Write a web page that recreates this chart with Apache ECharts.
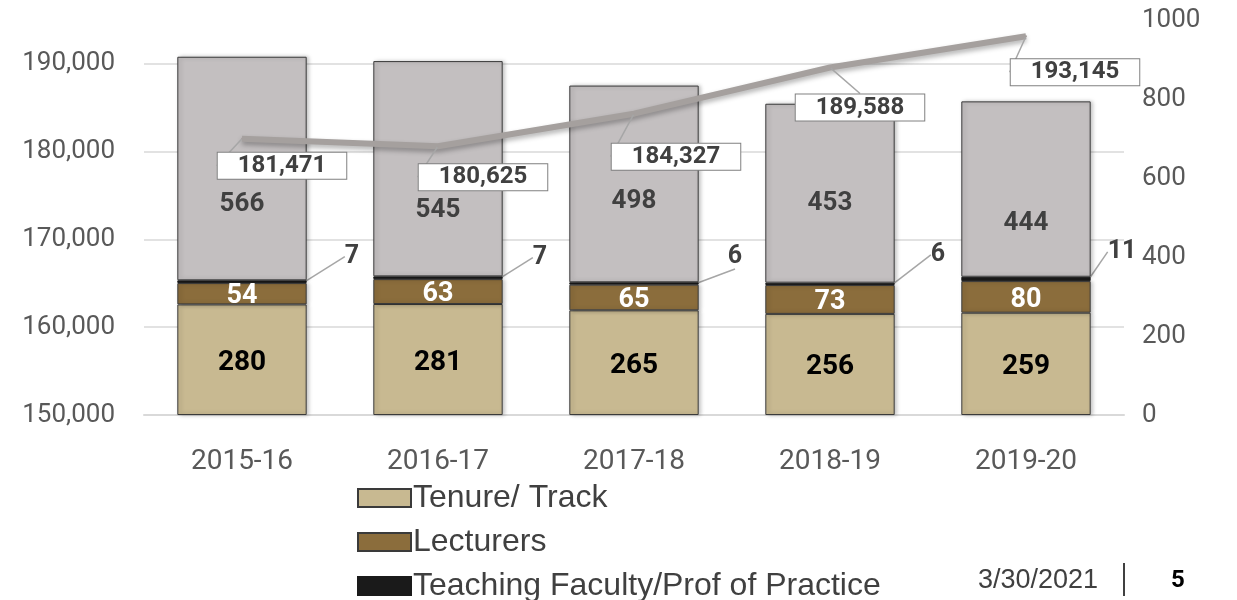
<!DOCTYPE html>
<html>
<head>
<meta charset="utf-8">
<script src="https://cdn.jsdelivr.net/npm/echarts@6/dist/echarts.min.js"></script>
<style>
html, body {
  margin: 0;
  padding: 0;
  background: #ffffff;
}
</style>
</head>
<body>
<div id="chart" style="width: 1237px;height:600px;"></div>
<script>
// data
var years      = ['2015-16', '2016-17', '2017-18', '2018-19', '2019-20'];
var tenure     = [280, 281, 265, 256, 259];
var lecturers  = [54, 63, 65, 73, 80];
var teaching   = [7, 7, 6, 6, 11];
var other      = [566, 545, 498, 453, 444];
var enrollment = [181471, 180625, 184327, 189588, 193145];

// label shifts (layout only)
var otherShift    = [36, 42, 18, 10, 34];
var teachingShift = [[110, -25], [102, -20], [101, -27], [108, -29], [96, -27]];
var lineShift     = [[40, 27], [45, 31], [42, 43], [30, 40], [49, 36]];

var font = 'Roboto, "Liberation Sans", sans-serif';
var arial = '"Liberation Sans", Arial, sans-serif';

var myChart = echarts.init(document.getElementById('chart'));

myChart.setOption({
  animation: false,
  textStyle: {
    fontFamily: font
  },
  grid: {
    left: 144,
    right: 113,
    top: 20,
    bottom: 185
  },
  legend: {
    orient: 'vertical',
    left: 357,
    top: 482,
    height: 200,
    padding: 0,
    itemWidth: 53,
    itemHeight: 18,
    itemGap: 12,
    icon: 'rect',
    data: ['Tenure/ Track', 'Lecturers', 'Teaching Faculty/Prof of Practice'],
    textStyle: {
      fontFamily: arial,
      fontSize: 32,
      lineHeight: 32,
      color: '#404040',
      padding: [0, 0, 0, -3]
    }
  },
  xAxis: {
    type: 'category',
    data: years,
    axisTick: { show: false },
    axisLine: {
      lineStyle: { color: '#d9d9d9', width: 2 }
    },
    axisLabel: {
      margin: 33,
      fontSize: 28,
      color: '#595959'
    }
  },
  yAxis: [
    {
      type: 'value',
      min: 150000,
      max: 195000,
      interval: 10000,
      axisLine: { show: false },
      axisTick: { show: false },
      axisLabel: {
        margin: 29,
        fontSize: 26,
        color: '#595959',
        showMaxLabel: false,
        formatter: function (v) {
          return v.toLocaleString('en-US');
        }
      },
      splitLine: {
        showMaxLine: false,
        lineStyle: { color: '#d9d9d9', width: 1.5 }
      }
    },
    {
      type: 'value',
      min: 0,
      max: 1000,
      interval: 200,
      axisLine: { show: false },
      axisTick: { show: false },
      splitLine: { show: false },
      axisLabel: {
        margin: 18,
        fontSize: 26,
        color: '#595959',
        formatter: function (v) {
          return String(v);
        }
      }
    }
  ],
  series: [
    {
      name: 'Tenure/ Track',
      type: 'bar',
      stack: 'fac',
      yAxisIndex: 1,
      barWidth: '66%',
      data: tenure,
      itemStyle: {
        color: '#c8b991',
        borderColor: '#3a3a3a',
        borderWidth: 1,
        shadowColor: 'rgba(0,0,0,0.25)',
        shadowBlur: 4,
        shadowOffsetX: 2
      },
      label: {
        show: true,
        position: 'inside',
        offset: [0, 3],
        fontSize: 28,
        fontWeight: 'bold',
        color: '#000000'
      }
    },
    {
      name: 'Lecturers',
      type: 'bar',
      stack: 'fac',
      yAxisIndex: 1,
      data: lecturers,
      itemStyle: {
        color: '#8b6d3c',
        borderColor: '#3a3a3a',
        borderWidth: 1,
        shadowColor: 'rgba(0,0,0,0.25)',
        shadowBlur: 4,
        shadowOffsetX: 2
      },
      label: {
        show: true,
        position: 'inside',
        offset: [0, 3],
        fontSize: 27,
        fontWeight: 'bold',
        color: '#ffffff'
      }
    },
    {
      name: 'Teaching Faculty/Prof of Practice',
      type: 'bar',
      stack: 'fac',
      yAxisIndex: 1,
      data: teaching,
      itemStyle: {
        color: '#1a1a1a',
        borderColor: '#1a1a1a',
        borderWidth: 1
      },
      label: {
        show: true,
        position: 'inside',
        fontSize: 25,
        fontWeight: 'bold',
        color: '#404040'
      },
      labelLine: {
        show: true,
        lineStyle: { color: '#a6a6a6', width: 1.5 }
      },
      labelLayout: function (p) {
        return { dx: teachingShift[p.dataIndex][0], dy: teachingShift[p.dataIndex][1] };
      }
    },
    {
      name: 'Other Faculty',
      type: 'bar',
      stack: 'fac',
      yAxisIndex: 1,
      data: other,
      itemStyle: {
        color: '#c3bfc0',
        borderColor: '#3a3a3a',
        borderWidth: 1,
        shadowColor: 'rgba(0,0,0,0.25)',
        shadowBlur: 4,
        shadowOffsetX: 2
      },
      label: {
        show: true,
        position: 'inside',
        fontSize: 26,
        fontWeight: 'bold',
        color: '#404040'
      },
      labelLayout: function (p) {
        return { dy: otherShift[p.dataIndex] };
      }
    },
    {
      name: 'Enrollment',
      type: 'line',
      yAxisIndex: 0,
      data: enrollment,
      symbol: 'circle',
      symbolSize: 2,
      z: 5,
      itemStyle: {
        color: '#a5a09e'
      },
      lineStyle: {
        color: '#a5a09e',
        width: 6,
        shadowColor: 'rgba(0,0,0,0.3)',
        shadowBlur: 5,
        shadowOffsetY: 3
      },
      label: {
        show: true,
        position: 'inside',
        fontSize: 24,
        fontWeight: 'bold',
        color: '#404040',
        backgroundColor: '#ffffff',
        borderColor: '#808080',
        borderWidth: 1,
        padding: [2, 20, 0, 20],
        formatter: function (p) {
          return p.value.toLocaleString('en-US');
        }
      },
      labelLine: {
        show: true,
        lineStyle: { color: '#a6a6a6', width: 1.5 }
      },
      labelLayout: function (p) {
        return { dx: lineShift[p.dataIndex][0], dy: lineShift[p.dataIndex][1] };
      }
    }
  ],
  graphic: [
    {
      type: 'text',
      left: 978,
      top: 567,
      style: {
        text: '3/30/2021',
        fontFamily: arial,
        fontSize: 27,
        fill: '#404040'
      }
    },
    {
      type: 'line',
      shape: { x1: 1124, y1: 563, x2: 1124, y2: 596 },
      style: { stroke: '#000000', lineWidth: 1.5 }
    },
    {
      type: 'text',
      left: 1171,
      top: 569,
      style: {
        text: '5',
        fontFamily: font,
        fontSize: 24,
        fontWeight: 'bold',
        fill: '#000000'
      }
    }
  ]
});
</script>
</body>
</html>
